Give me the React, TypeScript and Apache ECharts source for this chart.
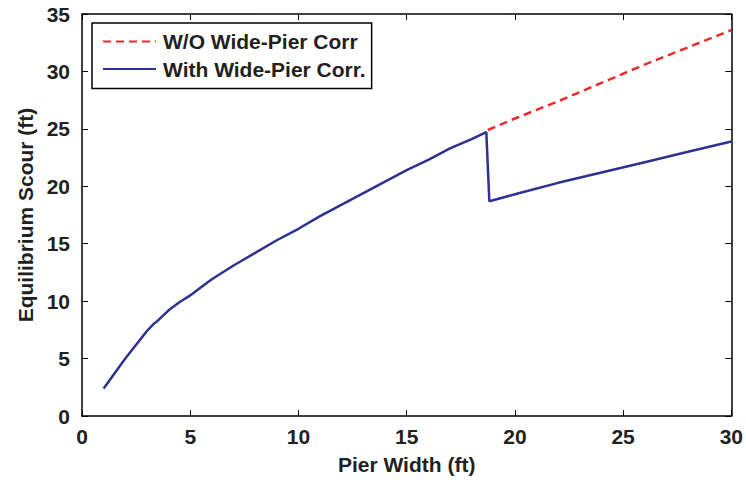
import React, { useEffect, useRef } from "react";
import * as echarts from "echarts";

const withCorrX = [1, 1.5, 2, 2.5, 3, 3.3, 3.5, 4, 4.5, 5, 5.5, 6, 7, 8, 9, 10, 11, 12, 13, 14, 15, 16, 17, 18, 18.68, 18.82, 20, 22, 24, 26, 28, 30];
const withCorrY = [2.4, 3.7, 5.0, 6.2, 7.4, 8.0, 8.3, 9.2, 9.9, 10.5, 11.2, 11.9, 13.1, 14.2, 15.3, 16.3, 17.4, 18.4, 19.4, 20.4, 21.4, 22.3, 23.3, 24.1, 24.72, 18.7, 19.3, 20.3, 21.2, 22.1, 23.0, 23.9];

const withoutCorrX = [18.75, 20, 22, 24, 26, 28, 30];
const withoutCorrY = [24.9, 25.9, 27.4, 29.0, 30.6, 32.1, 33.6];

const seriesNames = ["W/O Wide-Pier Corr", "With Wide-Pier Corr."];
const xAxisName = "Pier Width (ft)";
const yAxisName = "Equilibrium Scour (ft)";

const FONT = "'Liberation Sans', Arial, Helvetica, sans-serif";
const INK = "#231f20";

export default function App() {
  const ref = useRef<HTMLDivElement>(null);
  useEffect(() => {
    if (!ref.current) return;
    const chart = echarts.init(ref.current, null, { renderer: "svg" });
    const axisCommon = {
      axisLine: { show: true, onZero: false, lineStyle: { color: "#000", width: 1.5 } },
      axisTick: { show: true, inside: true, length: 6, lineStyle: { color: "#000", width: 1 } },
      splitLine: { show: false },
    };
    const labelStyle = { color: INK, fontFamily: FONT, fontWeight: "bold", fontSize: 21 };
    chart.setOption({
      animation: false,
      backgroundColor: "#fff",
      grid: { left: 82, right: 14, top: 14, bottom: 68, containLabel: false },
      legend: {
        show: true,
        orient: "vertical",
        left: 92,
        top: 23,
        padding: [8, 6, 9, 10],
        itemWidth: 53,
        itemHeight: 20,
        itemGap: 6.5,
        borderColor: "#000",
        borderWidth: 1.5,
        backgroundColor: "#fff",
        itemStyle: { color: "rgba(0,0,0,0)", borderColor: "rgba(0,0,0,0)", borderWidth: 0 },
        textStyle: { color: INK, fontFamily: FONT, fontWeight: "bold", fontSize: 21, padding: [0, 0, 0, 2] },
        data: seriesNames,
      },
      xAxis: [
        {
          type: "value",
          min: 0,
          max: 30,
          interval: 5,
          position: "bottom",
          name: xAxisName,
          nameLocation: "middle",
          nameGap: 38,
          nameTextStyle: { ...labelStyle },
          axisLabel: { ...labelStyle, margin: 10 },
          ...axisCommon,
        },
        {
          type: "value",
          min: 0,
          max: 30,
          interval: 5,
          position: "top",
          axisLabel: { show: false },
          ...axisCommon,
        },
      ],
      yAxis: [
        {
          type: "value",
          min: 0,
          max: 35,
          interval: 5,
          position: "left",
          name: yAxisName,
          nameLocation: "middle",
          nameGap: 44,
          nameRotate: 90,
          nameTextStyle: { ...labelStyle },
          axisLabel: { ...labelStyle, margin: 12 },
          ...axisCommon,
        },
        {
          type: "value",
          min: 0,
          max: 35,
          interval: 5,
          position: "right",
          axisLabel: { show: false },
          ...axisCommon,
        },
      ],
      series: [
        {
          name: seriesNames[0],
          type: "line",
          showSymbol: false,
          symbol: "none",
          data: withoutCorrX.map((x, i) => [x, withoutCorrY[i]]),
          lineStyle: { color: "#ee2a2f", width: 2.5, type: [8, 5] },
          itemStyle: { color: "#ee2a2f" },
          z: 2,
        },
        {
          name: seriesNames[1],
          type: "line",
          showSymbol: false,
          symbol: "none",
          data: withCorrX.map((x, i) => [x, withCorrY[i]]),
          lineStyle: { color: "#2e3192", width: 2.5 },
          itemStyle: { color: "#2e3192" },
          z: 3,
        },
      ],
    });
    return () => chart.dispose();
  }, []);
  return (
    <div
      ref={ref}
      style={{ position: "fixed", left: 0, top: 0, width: 746, height: 484, background: "#fff" }}
    />
  );
}
